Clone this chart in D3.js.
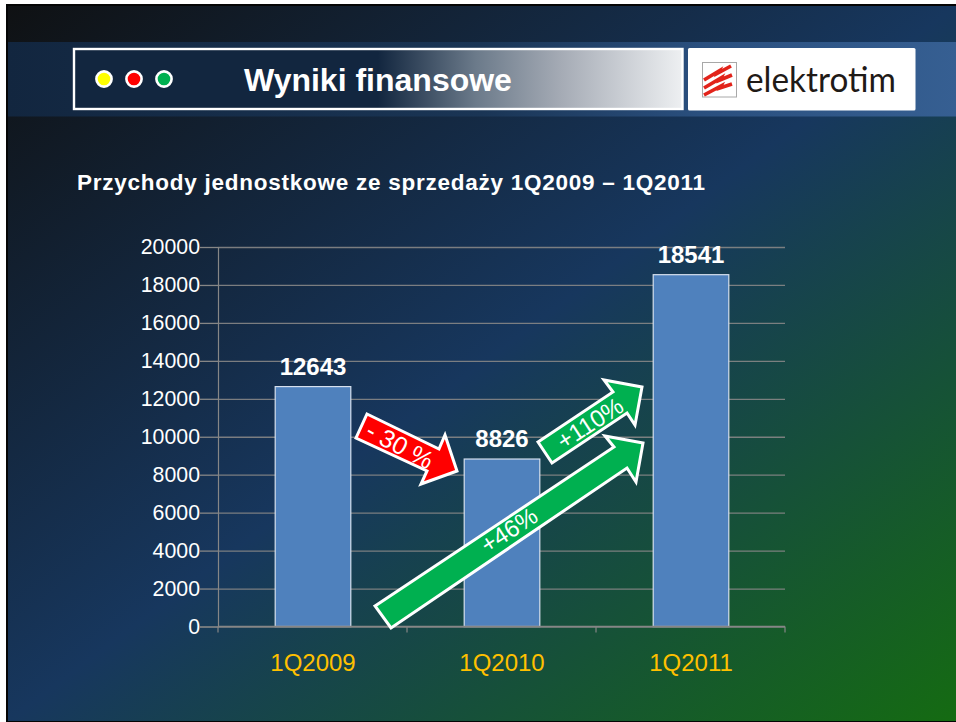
<!DOCTYPE html>
<html><head><meta charset="utf-8">
<script src="https://cdn.jsdelivr.net/npm/d3@7"></script>
<style>
html,body{margin:0;padding:0;background:#fff}
svg{display:block}
text{font-family:"Liberation Sans",Arial,sans-serif}
</style></head><body><svg id="c" width="956" height="722"></svg>
<script>
const categories = ["1Q2009","1Q2010","1Q2011"];
const values = [12643,8826,18541];
const yTicks = [0,2000,4000,6000,8000,10000,12000,14000,16000,18000,20000];
const lampColors = ["#ffff00","#ff0000","#00b050"];
const titleText = "Wyniki finansowe";
const subtitleText = "Przychody jednostkowe ze sprzedaży 1Q2009 – 1Q2011";
const brandText = "elektrotim";

const svg = d3.select("#c");
const defs = svg.append("defs");
function grad(id, attrs, stops){
  const g = defs.append("linearGradient").attr("id",id);
  Object.entries(attrs).forEach(([k,v])=>g.attr(k,v));
  stops.forEach(([o,c])=>g.append("stop").attr("offset",o).attr("stop-color",c));
}
grad("bg",{x1:0,y1:0,x2:1,y2:1},[[0,"#0f1113"],[0.5,"#17375e"],[1,"#156b12"]]);
grad("band",{gradientUnits:"userSpaceOnUse",x1:8,y1:0,x2:956,y2:0},
  [[0,"#12263f"],[0.5,"#1a3555"],[0.73,"#2a4f7e"],[1,"#365f92"]]);
grad("titleBox",{gradientUnits:"userSpaceOnUse",x1:73,y1:0,x2:683,y2:0},
  [[0,"#12263f"],[0.5,"#12263f"],[0.66,"#6b7a8a"],[0.8,"#a5abb5"],[1,"#eef0f2"]]);

// slide frame and background
svg.append("rect").attr("x",6).attr("y",4).attr("width",950).attr("height",718).attr("fill","#050505");
svg.append("rect").attr("x",8).attr("y",6).attr("width",948).attr("height",715).attr("fill","url(#bg)");
svg.append("rect").attr("x",8).attr("y",42).attr("width",948).attr("height",74.5).attr("fill","url(#band)");

// title box
svg.append("rect").attr("x",74).attr("y",49).attr("width",608.5).attr("height",60)
  .attr("fill","url(#titleBox)").attr("stroke","#fff").attr("stroke-width",2.4);
svg.append("g").selectAll("circle").data(lampColors).join("circle")
  .attr("cx",(d,i)=>104+i*30).attr("cy",79).attr("r",7.6)
  .attr("fill",d=>d).attr("stroke","#fff").attr("stroke-width",2.6);
svg.append("text").attr("x",244).attr("y",91).attr("font-size",32).attr("font-weight","bold")
  .attr("fill","#fff").text(titleText);

// logo
svg.append("rect").attr("x",688).attr("y",48).attr("width",227.5).attr("height",62.5).attr("rx",1.5).attr("fill","#fff");
svg.append("rect").attr("x",702.5).attr("y",62.5).attr("width",34).attr("height",34.5).attr("fill","#fff").attr("stroke","#a8a8a8").attr("stroke-width",1);
const stripe = d3.line();
[[[704,80],[719,71],[718,73],[731,66]],
 [[704,88],[721,78],[720,80],[732,75]],
 [[704,95],[721,86],[720,88],[732,84]]].forEach(pts=>{
  svg.append("path").attr("d",stripe(pts)).attr("fill","none").attr("stroke","#e2231a").attr("stroke-width",3.6);
});
svg.append("text").attr("x",746).attr("y",92).attr("font-size",34).attr("fill","#1f1a17")
  .style("font-family","Lato, sans-serif").attr("textLength",150).attr("lengthAdjust","spacingAndGlyphs").text(brandText);

// subtitle
svg.append("text").attr("x",77).attr("y",190).attr("font-size",22.5).attr("font-weight","bold")
  .attr("fill","#fff").attr("textLength",628).attr("lengthAdjust","spacing").text(subtitleText);

// chart
const y = d3.scaleLinear().domain([0,20000]).range([626.5,247]);
const x = d3.scaleBand().domain(categories).range([218,785]).paddingInner(0.6).paddingOuter(0.3);
const lineCol = "#868686";

const grid = svg.append("g").attr("transform","translate(218,0)")
  .call(d3.axisLeft(y).tickValues(yTicks).tickSize(-567).tickFormat(""));
grid.select(".domain").remove();
grid.selectAll("line").attr("stroke",lineCol).attr("stroke-width",1.3).attr("stroke-opacity",0.9);

svg.append("g").selectAll("rect").data(values).join("rect")
  .attr("x",(d,i)=>x(categories[i])+0.5).attr("width",x.bandwidth())
  .attr("y",d=>y(d)).attr("height",d=>y(0)-y(d))
  .attr("fill","#4f81bd").attr("stroke","#d6e0ee").attr("stroke-width",1.2);

const yAxis = svg.append("g").attr("transform","translate(218,0)")
  .call(d3.axisLeft(y).tickValues(yTicks).tickSize(18).tickPadding(0).tickFormat(d3.format("d")));
yAxis.select(".domain").attr("stroke",lineCol).attr("stroke-width",1.2);
yAxis.selectAll("line").attr("stroke",lineCol).attr("stroke-width",1.3);
yAxis.selectAll("text").attr("font-size",21.3).attr("fill","#fff").style("font-family",'"Liberation Sans"');

const xBase = svg.append("g").attr("transform","translate(0,626.5)");
xBase.append("line").attr("x1",218).attr("x2",785).attr("stroke",lineCol).attr("stroke-width",1.3);
xBase.selectAll(".t").data(d3.range(categories.length+1)).join("line").attr("class","t")
  .attr("x1",i=>218+i*x.step()).attr("x2",i=>218+i*x.step()).attr("y1",0).attr("y2",6)
  .attr("stroke",lineCol).attr("stroke-width",1.2);

svg.append("g").selectAll("text").data(categories).join("text")
  .attr("x",d=>x(d)+x.bandwidth()/2+0.5).attr("y",671).attr("text-anchor","middle")
  .attr("font-size",24).attr("fill","#ffc000").text(d=>d);

svg.append("g").selectAll("text").data(values).join("text")
  .attr("x",(d,i)=>x(categories[i])+x.bandwidth()/2+0.5).attr("y",d=>y(d)-12).attr("text-anchor","middle")
  .attr("font-size",24).attr("font-weight","bold").attr("fill","#fff").text(d=>d);

// annotation arrows
function arrow(points, fill){
  svg.append("polygon").attr("points",points.map(p=>p.join(",")).join(" "))
    .attr("fill",fill).attr("stroke","#fff").attr("stroke-width",3).attr("stroke-linejoin","miter");
}
function note(t,cx,cy,rot,size){
  svg.append("text").attr("transform",`translate(${cx},${cy}) rotate(${rot})`)
    .attr("text-anchor","middle").attr("dominant-baseline","central")
    .attr("font-size",size).attr("fill","#fff").text(t);
}
arrow([[367,414],[439,449],[445,435],[457,471],[421,484],[427,471],[356,438]],"#ff0000");
arrow([[375,606],[614,447],[605,436],[643,443],[636,482],[627,468],[391,628]],"#00b050");
arrow([[538,442],[613,392],[604,380],[642,387],[635,425],[627,413],[552,463]],"#00b050");
note("- 30 %",400,445,28,25);
note("+46%",509,530,-33,24);
note("+110%",590,423,-33,24);
</script></body></html>
